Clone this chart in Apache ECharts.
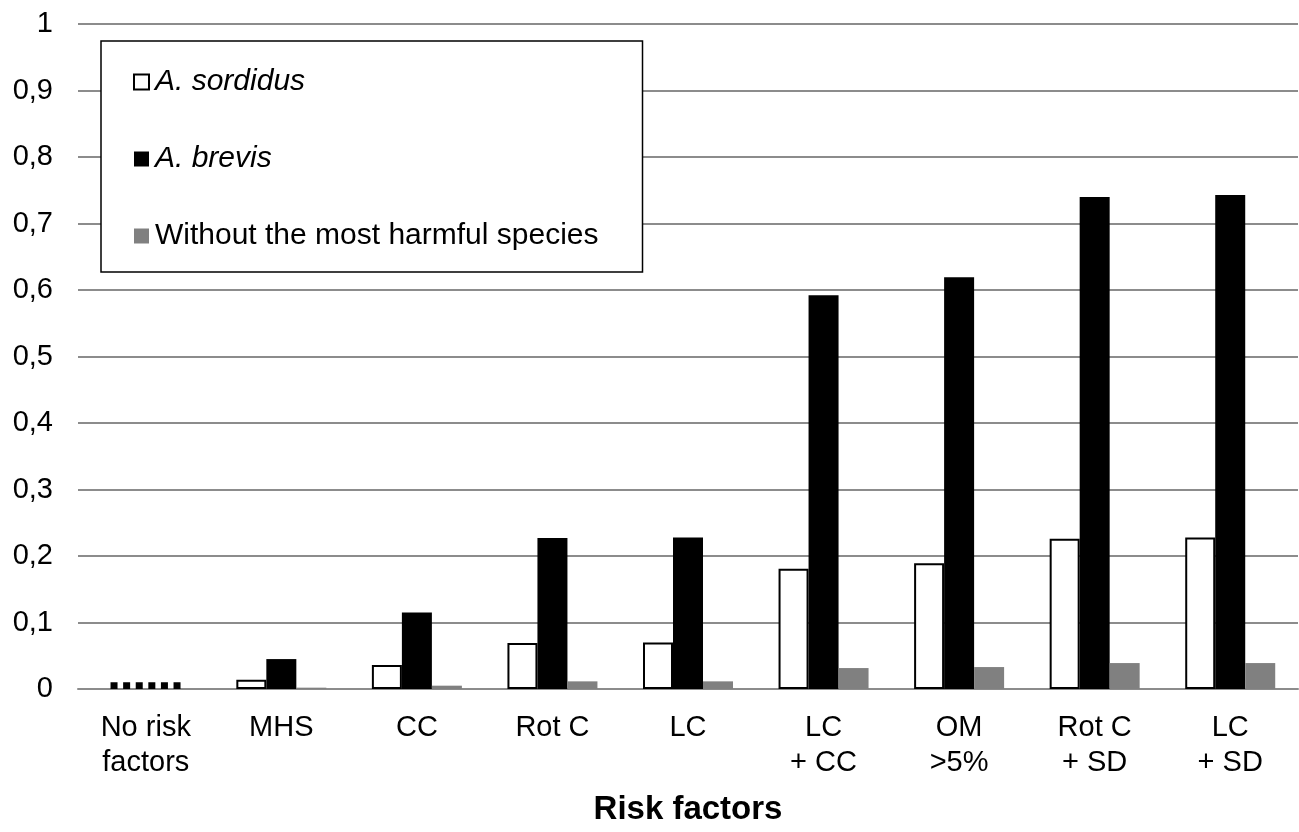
<!DOCTYPE html>
<html>
<head>
<meta charset="utf-8">
<script src="https://cdn.jsdelivr.net/npm/echarts@6/dist/echarts.min.js"></script>
<style>
html,body{margin:0;padding:0;background:#fff;}
#chart{width:1299px;height:832px;}
</style>
</head>
<body>
<div id="chart"></div>
<script>
var categories = ['No risk\nfactors', 'MHS', 'CC', 'Rot C', 'LC', 'LC\n+ CC', 'OM\n>5%', 'Rot C\n+ SD', 'LC\n+ SD'];
var seriesNames = ['A. sordidus', 'A. brevis', 'Without the most harmful species'];
var sordidus = [null, 0.014, 0.036, 0.069, 0.070, 0.181, 0.189, 0.226, 0.228];
var brevis   = [null, 0.045, 0.115, 0.227, 0.228, 0.592, 0.619, 0.740, 0.743];
var without  = [null, 0.002, 0.005, 0.0115, 0.0115, 0.0315, 0.033, 0.039, 0.039];
var noRisk = [[0, 0.01]];
var yTicks = [0, 0.1, 0.2, 0.3, 0.4, 0.5, 0.6, 0.7, 0.8, 0.9, 1];

var FONT = '"Liberation Sans", Arial, sans-serif';
var chart = echarts.init(document.getElementById('chart'));
chart.setOption({
  animation: false,
  backgroundColor: '#fff',
  grid: { left: 78, right: 1, top: 24, bottom: 143, containLabel: false },
  legend: {
    data: seriesNames,
    orient: 'vertical',
    left: 101, top: 41,
    itemWidth: 15, itemHeight: 15,
    itemGap: 47,
    padding: [26, 44, 21, 32],
    backgroundColor: '#fff',
    borderColor: '#000', borderWidth: 1.5,
    icon: 'rect',
    selectedMode: false,
    textStyle: {
      fontFamily: FONT, fontSize: 30, color: '#000', lineHeight: 30,
      rich: {
        i: { fontFamily: FONT, fontSize: 30, fontStyle: 'italic', color: '#000', lineHeight: 30, padding: [0, 0, 0, 1] },
        n: { fontFamily: FONT, fontSize: 30, color: '#000', lineHeight: 30, padding: [0, 0, 0, 1] }
      }
    },
    formatter: function (n) { return n.indexOf('A.') === 0 ? '{i|' + n + '}' : '{n|' + n + '}'; }
  },
  xAxis: {
    type: 'category',
    data: categories,
    axisLine: { show: true, lineStyle: { color: '#8c8c8c', width: 2 } },
    axisTick: { show: false },
    axisLabel: { fontFamily: FONT, fontSize: 29, color: '#000', lineHeight: 34.5, margin: 22, interval: 0 },
    name: 'Risk factors',
    nameLocation: 'middle',
    nameGap: 104,
    nameTextStyle: { fontFamily: FONT, fontSize: 33, fontWeight: 'bold', color: '#000' }
  },
  yAxis: {
    type: 'value',
    min: 0, max: 1, interval: 0.1,
    axisLine: { show: false },
    axisTick: { show: false },
    splitLine: { show: true, lineStyle: { color: '#8c8c8c', width: 2 } },
    axisLabel: {
      fontFamily: FONT, fontSize: 29, color: '#000', margin: 25,
      formatter: function (v) {
        var t = yTicks.reduce(function (a, b) { return Math.abs(b - v) < Math.abs(a - v) ? b : a; });
        return String(Math.round(t * 10) / 10).replace('.', ',');
      }
    }
  },
  series: [
    { name: seriesNames[0], type: 'bar', data: sordidus, barWidth: 30, barGap: '0%',
      itemStyle: { color: '#fff', borderColor: '#000', borderWidth: 2 } },
    { name: seriesNames[1], type: 'bar', data: brevis, barWidth: 30, barGap: '0%',
      itemStyle: { color: '#000' } },
    { name: seriesNames[2], type: 'bar', data: without, barWidth: 30, barGap: '0%',
      itemStyle: { color: '#808080' } },
    { name: 'noRisk', type: 'custom', data: noRisk, z: 5,
      renderItem: function (params, api) {
        var c = api.value(0), v = api.value(1);
        var top = api.coord([c, v]);
        var base = api.coord([c, 0]);
        var band = api.size([1, 0])[0];
        var h = base[1] - top[1];
        var w = band * 0.52;
        var yMid = (top[1] + base[1]) / 2;
        return {
          type: 'line',
          shape: { x1: top[0] - w / 2, y1: yMid, x2: top[0] + w / 2, y2: yMid },
          style: { stroke: '#000', lineWidth: h, lineDash: [7, 5.6] }
        };
      }
    }
  ]
});
</script>
</body>
</html>
